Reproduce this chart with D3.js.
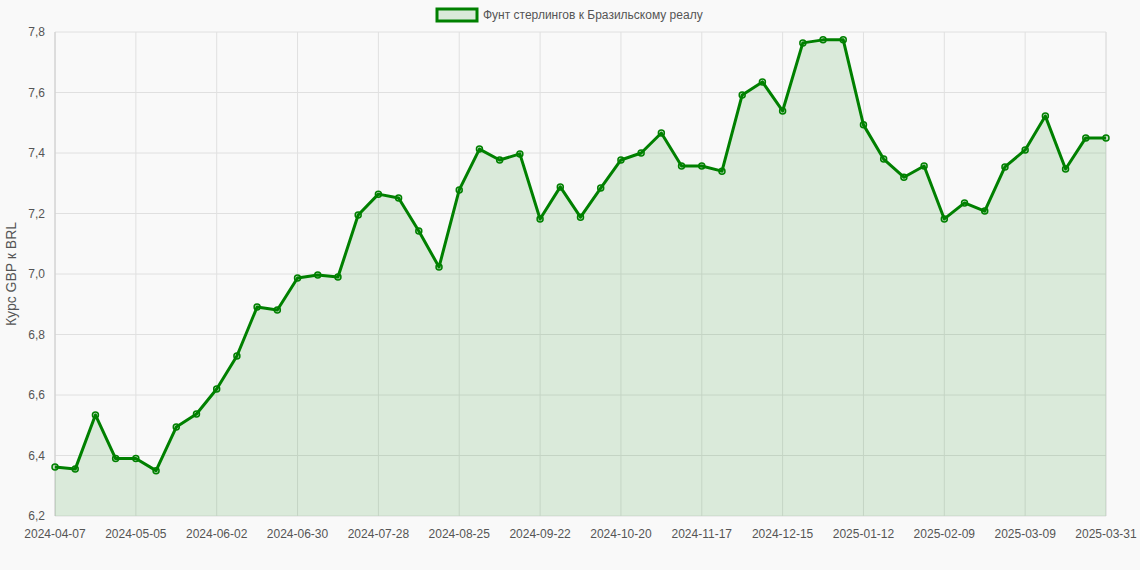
<!DOCTYPE html>
<html><head><meta charset="utf-8">
<script src="https://cdn.jsdelivr.net/npm/d3@7"></script>
<style>body{margin:0;background:#f9f9f9;font-family:"Liberation Sans",Arial,sans-serif}</style>
</head><body><svg id="c" width="1140" height="570"></svg>
<script>
const startDate = "2024-04-07";
const lastDate = "2025-03-31";
const values = [6.362,6.355,6.534,6.39,6.39,6.35,6.494,6.537,6.62,6.729,6.891,6.881,6.987,6.997,6.99,7.195,7.264,7.251,7.142,7.023,7.278,7.413,7.377,7.397,7.182,7.288,7.188,7.284,7.377,7.4,7.466,7.357,7.357,7.34,7.592,7.635,7.539,7.764,7.774,7.774,7.493,7.38,7.32,7.357,7.182,7.235,7.208,7.354,7.41,7.522,7.347,7.45,7.45];
const yTicks = [6.2,6.4,6.6,6.8,7.0,7.2,7.4,7.6,7.8];
const seriesName = "Фунт стерлингов к Бразильскому реалу";
const yTitle = "Курс GBP к BRL";

const fmt = d3.utcFormat("%Y-%m-%d");
const dates = values.map((v,i)=> i===values.length-1 ? lastDate : fmt(d3.utcDay.offset(new Date(startDate+"T00:00:00Z"), 7*i)));
const tickIdx = dates.map((d,i)=>i).filter(i=> i%4===0 || i===dates.length-1);

const svg = d3.select("#c");
const L=55,R=1106,T=32,B=516;
const x = d3.scalePoint().domain(d3.range(values.length)).range([L,R]);
const y = d3.scaleLinear().domain([6.2,7.8]).range([B,T]);

const g = svg.append("g");
g.selectAll(".hg").data(yTicks).join("line").attr("x1",L).attr("x2",R)
 .attr("y1",d=>y(d)).attr("y2",d=>y(d)).attr("stroke","#e0e0e0");
g.selectAll(".vg").data(tickIdx).join("line").attr("y1",T).attr("y2",B)
 .attr("x1",d=>x(d)).attr("x2",d=>x(d)).attr("stroke","#e0e0e0");
g.append("line").attr("x1",L).attr("x2",L).attr("y1",T).attr("y2",B).attr("stroke","#ccc");
g.append("line").attr("x1",R).attr("x2",R).attr("y1",T).attr("y2",B).attr("stroke","#e0e0e0");

svg.selectAll(".yl").data(yTicks).join("text").attr("x",L-10).attr("y",d=>y(d)+4)
 .attr("text-anchor","end").attr("font-size",12).attr("fill","#555").text(d=>d.toFixed(1).replace(".",","));
svg.selectAll(".xl").data(tickIdx).join("text").attr("x",d=>x(d)).attr("y",B+22)
 .attr("text-anchor","middle").attr("font-size",12).attr("fill","#555").text(d=>dates[d]);
svg.append("text").attr("transform",`translate(16,${(T+B)/2}) rotate(-90)`).attr("text-anchor","middle")
 .attr("font-size",14).attr("fill","#555").text(yTitle);

const area = d3.area().x((d,i)=>x(i)).y0(B).y1(d=>y(d));
const line = d3.line().x((d,i)=>x(i)).y(d=>y(d));
svg.append("path").datum(values).attr("d",area).attr("fill","rgba(0,128,0,0.12)");
svg.append("path").datum(values).attr("d",line).attr("fill","none").attr("stroke","#008000").attr("stroke-width",3).attr("stroke-linejoin","round");
svg.selectAll(".pt").data(values).join("circle").attr("cx",(d,i)=>x(i)).attr("cy",d=>y(d)).attr("r",3)
 .attr("fill","rgba(0,128,0,0.2)").attr("stroke","#008000").attr("stroke-width",1.5);

// legend
svg.append("rect").attr("x",437).attr("y",9).attr("width",40).attr("height",12).attr("fill","rgba(0,128,0,0.12)").attr("stroke","#008000").attr("stroke-width",3);
svg.append("text").attr("x",483).attr("y",19).attr("font-size",12).attr("fill","#555").text(seriesName);
</script></body></html>
